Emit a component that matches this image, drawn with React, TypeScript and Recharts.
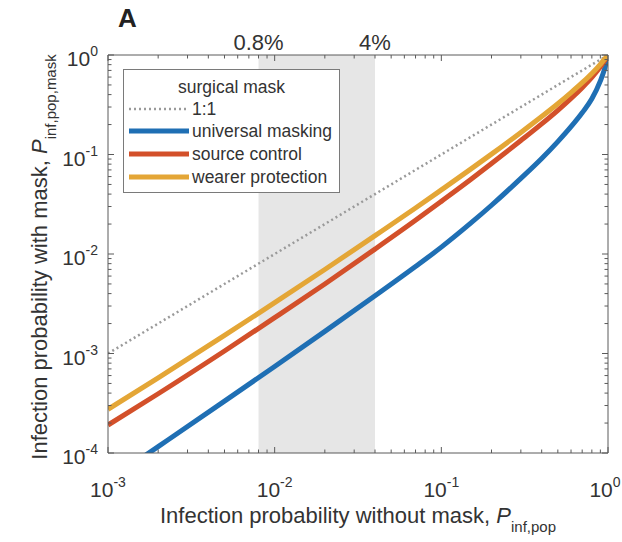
import React from 'react';
import { ComposedChart, Line, XAxis, YAxis, ReferenceArea, ReferenceLine, Legend } from 'recharts';

// ---- data ----
const xValues = [0.001, 0.002, 0.005, 0.01, 0.02, 0.04, 0.07, 0.1, 0.15, 0.2, 0.3, 0.4, 0.5, 0.6, 0.7, 0.8, 0.9, 0.95, 1];
const universalMasking = [5.25e-5, 1.16e-4, 3.32e-4, 7.41e-4, 1.67e-3, 3.8e-3, 7.48e-3, 0.01172, 0.0204, 0.0309, 0.0575, 0.0912, 0.1349, 0.1905, 0.263, 0.363, 0.5495, 0.708, 1];
const sourceControl = [1.91e-4, 3.94e-4, 1.06e-3, 2.29e-3, 5.0e-3, 0.0112, 0.0218, 0.0338, 0.056, 0.0811, 0.138, 0.203, 0.278, 0.366, 0.47, 0.596, 0.759, 0.867, 1];
const wearerProtection = [2.75e-4, 5.7e-4, 1.52e-3, 3.24e-3, 6.98e-3, 0.01528, 0.029, 0.0441, 0.0713, 0.1009, 0.1667, 0.241, 0.324, 0.419, 0.527, 0.653, 0.807, 0.902, 1];
const identityX = [0.001, 1];
const identityY = [0.001, 1];

const xDecades = [0.001, 0.01, 0.1, 1];
const yDecades = [0.0001, 0.001, 0.01, 0.1, 1];
const minorMultipliers = [2, 3, 4, 5, 6, 7, 8, 9];
const shadeRange = [0.008, 0.04];
const shadeLabels = ['0.8%', '4%'];
const legendTitle = 'surgical mask';
const seriesNames = ['1:1', 'universal masking', 'source control', 'wearer protection'];

// ---- styling ----
const FONT = '"Liberation Sans", Arial, Helvetica, sans-serif';
const TEXT = '#333333';
const AXIS = '#5a5a5a';
const COLORS = { identity: '#9a9a9a', universal: '#1f6fb4', source: '#d3502a', wearer: '#e4a636' };

const withMinors = (decades: number[]) => {
  const out: number[] = [];
  decades.forEach((d, i) => {
    out.push(d);
    if (i < decades.length - 1) minorMultipliers.forEach((m) => out.push(+(m * d).toPrecision(3)));
  });
  return out;
};
const xTicks = withMinors(xDecades);
const yTicks = withMinors(yDecades);

const rows = xValues.map((x, i) => ({
  x,
  universal: universalMasking[i],
  source: sourceControl[i],
  wearer: wearerProtection[i],
}));
const identityRows = identityX.map((x, i) => ({ x, y: identityY[i] }));

const isMajor = (v: number) => Math.abs(Math.log10(v) - Math.round(Math.log10(v))) < 1e-6;
const expOf = (v: number) => String(Math.round(Math.log10(v)));

const BottomTick = (props: any) => {
  const { x, y, payload } = props;
  const v = payload.value;
  const major = isMajor(v);
  const last = v >= 1;
  return (
    <g>
      <line x1={x} x2={x} y1={y} y2={y - (major ? 6 : 3.5)} stroke={AXIS} strokeWidth={1} />
      {major && (
        <text x={last ? x - 3 : x} y={y + 44} textAnchor="middle" fill={TEXT} fontSize={21} fontFamily={FONT}>
          10<tspan dy={-10} fontSize={14}>{expOf(v)}</tspan>
        </text>
      )}
    </g>
  );
};
const TopTick = (props: any) => {
  const { x, y, payload } = props;
  const major = isMajor(payload.value);
  return <line x1={x} x2={x} y1={y} y2={y + (major ? 6 : 3.5)} stroke={AXIS} strokeWidth={1} />;
};
const LeftTick = (props: any) => {
  const { x, y, payload } = props;
  const v = payload.value;
  const major = isMajor(v);
  return (
    <g>
      <line x1={x} x2={x + (major ? 6 : 3.5)} y1={y} y2={y} stroke={AXIS} strokeWidth={1} />
      {major && (
        <text x={x - 10} y={y + 11} textAnchor="end" fill={TEXT} fontSize={21} fontFamily={FONT}>
          10<tspan dy={-10} fontSize={14}>{expOf(v)}</tspan>
        </text>
      )}
    </g>
  );
};
const RightTick = (props: any) => {
  const { x, y, payload } = props;
  const major = isMajor(payload.value);
  return <line x1={x} x2={x - (major ? 6 : 3.5)} y1={y} y2={y} stroke={AXIS} strokeWidth={1} />;
};

const XTitle = (props: any) => {
  const vb = props.viewBox || {};
  const cx = vb.x + vb.width / 2;
  return (
    <text x={cx} y={vb.y + 70} textAnchor="middle" fill={TEXT} fontSize={22} fontFamily={FONT}>
      Infection probability without mask, <tspan fontStyle="italic">P</tspan>
      <tspan dy={9} fontSize={15}>inf,pop</tspan>
    </text>
  );
};
const YTitle = (props: any) => {
  const vb = props.viewBox || {};
  const x = vb.x - 1;
  const y = vb.y + vb.height / 2 + 3;
  return (
    <text x={x} y={y} transform={`rotate(-90, ${x}, ${y})`} textAnchor="middle" fill={TEXT} fontSize={22} fontFamily={FONT}>
      Infection probability with mask, <tspan fontStyle="italic">P</tspan>
      <tspan dy={9} fontSize={15}>inf,pop,mask</tspan>
    </text>
  );
};

const seriesStyle: Record<string, { color: string; width: number; dash?: string }> = {
  [seriesNames[0]]: { color: COLORS.identity, width: 2.5, dash: '2 3' },
  [seriesNames[1]]: { color: COLORS.universal, width: 5 },
  [seriesNames[2]]: { color: COLORS.source, width: 5 },
  [seriesNames[3]]: { color: COLORS.wearer, width: 5 },
};

const LegendBox = () => {
  const tops = [40, 62, 85, 108];
  return (
    <div
      style={{
        position: 'relative',
        width: 217,
        height: 124,
        boxSizing: 'border-box',
        border: '1px solid #7a7a7a',
        background: '#ffffff',
        fontFamily: FONT,
        fontSize: 17.5,
        color: TEXT,
      }}
    >
      <div style={{ position: 'absolute', left: 0, right: 0, top: 7, textAlign: 'center', lineHeight: '20px' }}>{legendTitle}</div>
      {seriesNames.map((name, i) => {
        const st = seriesStyle[name];
        return (
          <div key={name} style={{ position: 'absolute', left: 5, top: tops[i] - 11, height: 20, display: 'flex', alignItems: 'center' }}>
            <svg width={60} height={10} style={{ display: 'block' }}>
              <line x1={0} x2={60} y1={5} y2={5} stroke={st.color} strokeWidth={st.width} strokeDasharray={st.dash} />
            </svg>
            <span style={{ marginLeft: 3, lineHeight: '20px', whiteSpace: 'nowrap' }}>{name}</span>
          </div>
        );
      })}
    </div>
  );
};

export default function App() {
  return (
    <div style={{ position: 'absolute', left: 0, top: 0, width: 622, height: 542, background: '#ffffff' }}>
      <div style={{ position: 'absolute', left: 118, top: 3, fontFamily: FONT, fontWeight: 'bold', fontSize: 26, color: '#222', lineHeight: '30px' }}>A</div>
      <ComposedChart width={622} height={542} data={rows} margin={{ top: 54, right: 13, bottom: 59, left: 48 }}>
        <XAxis
          dataKey="x"
          type="number"
          scale="log"
          domain={[0.001, 1]}
          allowDataOverflow
          ticks={xTicks}
          interval={0}
          tickSize={0}
          tickMargin={0}
          tick={BottomTick}
          height={30}
          axisLine={{ stroke: AXIS }}
          label={<XTitle />}
        />
        <XAxis
          xAxisId="top"
          orientation="top"
          dataKey="x"
          type="number"
          scale="log"
          domain={[0.001, 1]}
          allowDataOverflow
          ticks={xTicks}
          interval={0}
          tickSize={0}
          tickMargin={0}
          tick={TopTick}
          height={1}
          axisLine={{ stroke: AXIS }}
        />
        <YAxis
          type="number"
          scale="log"
          domain={[0.0001, 1]}
          allowDataOverflow
          ticks={yTicks}
          interval={0}
          tickSize={0}
          tickMargin={0}
          tick={LeftTick}
          width={60}
          axisLine={{ stroke: AXIS }}
          label={<YTitle />}
        />
        <YAxis
          yAxisId="right"
          orientation="right"
          type="number"
          scale="log"
          domain={[0.0001, 1]}
          allowDataOverflow
          ticks={yTicks}
          interval={0}
          tickSize={0}
          tickMargin={0}
          tick={RightTick}
          width={1}
          axisLine={{ stroke: AXIS }}
        />
        <ReferenceArea x1={shadeRange[0]} x2={shadeRange[1]} y1={0.0001} y2={1} fill="#e6e6e6" fillOpacity={1} stroke="none" />
        <ReferenceLine x={shadeRange[0]} stroke="none" label={{ value: shadeLabels[0], position: 'top', fill: TEXT, fontSize: 22, fontFamily: FONT, offset: 5 }} />
        <ReferenceLine x={shadeRange[1]} stroke="none" label={{ value: shadeLabels[1], position: 'top', fill: TEXT, fontSize: 22, fontFamily: FONT, offset: 5 }} />
        <Line data={identityRows} dataKey="y" name={seriesNames[0]} stroke={COLORS.identity} strokeWidth={2.5} strokeDasharray="2 3" dot={false} isAnimationActive={false} type="linear" />
        <Line dataKey="universal" name={seriesNames[1]} stroke={COLORS.universal} strokeWidth={5} dot={false} isAnimationActive={false} type="monotone" />
        <Line dataKey="source" name={seriesNames[2]} stroke={COLORS.source} strokeWidth={5} dot={false} isAnimationActive={false} type="monotone" />
        <Line dataKey="wearer" name={seriesNames[3]} stroke={COLORS.wearer} strokeWidth={5} dot={false} isAnimationActive={false} type="monotone" />
        <Legend
          layout="vertical"
          verticalAlign="middle"
          align="center"
          content={<LegendBox />}
          wrapperStyle={{ position: 'absolute', left: 123, top: 69, width: 217, height: 124, margin: 0 }}
        />
      </ComposedChart>
    </div>
  );
}
